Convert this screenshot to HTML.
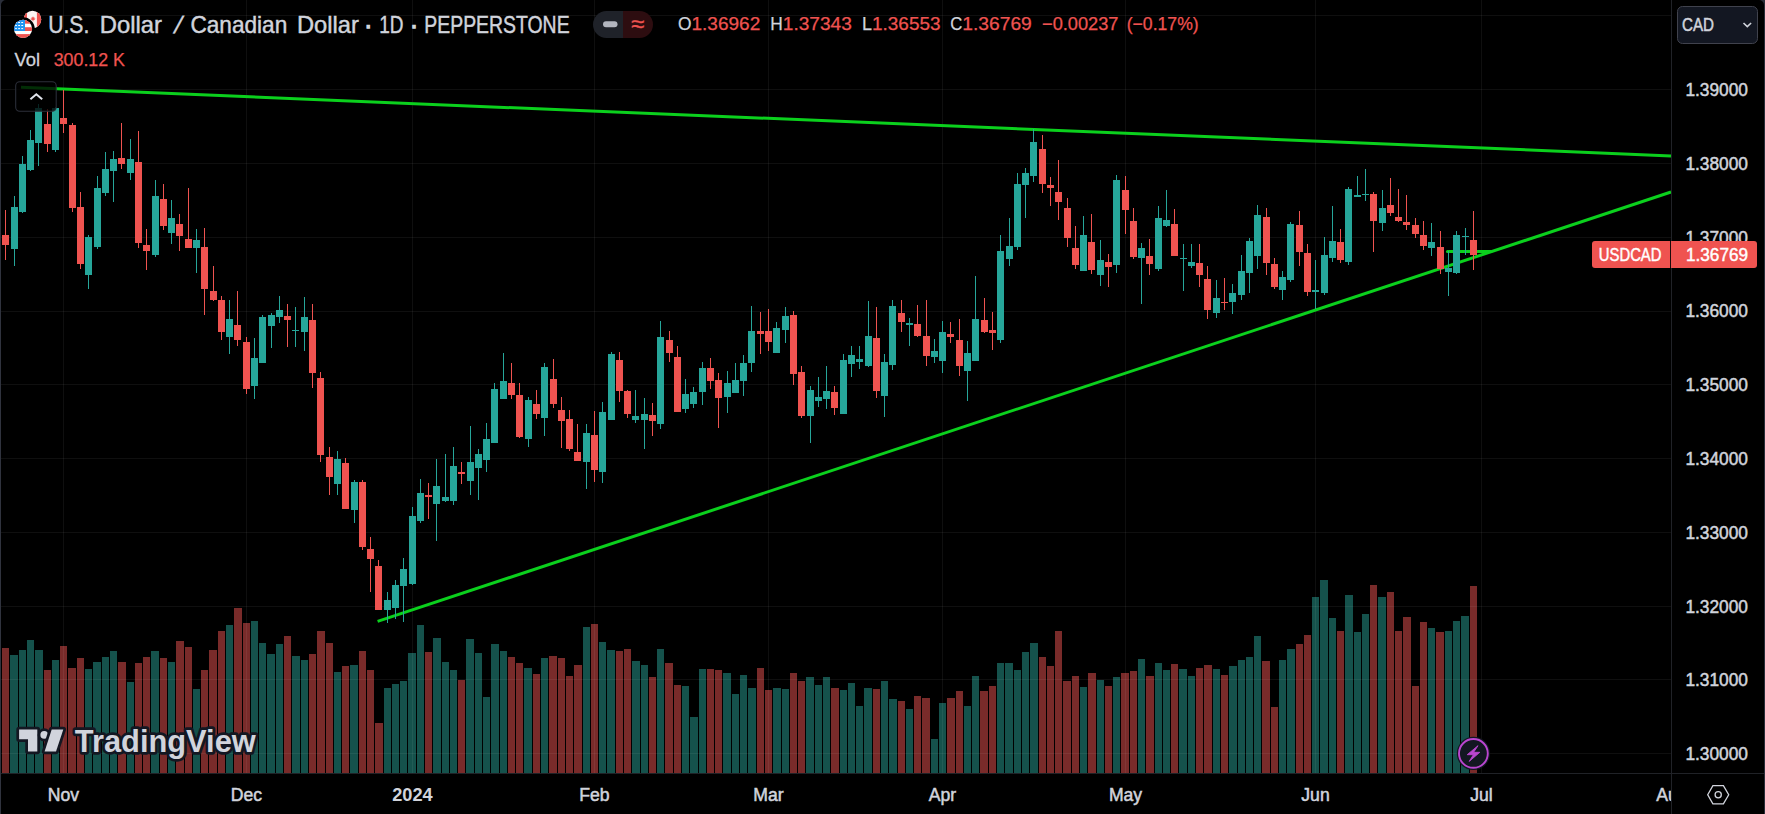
<!DOCTYPE html><html><head><meta charset="utf-8"><title>USDCAD chart</title><style>html,body{margin:0;padding:0;background:#000;width:1765px;height:814px;overflow:hidden}</style></head><body>
<svg width="1765" height="814" viewBox="0 0 1765 814" style="display:block;font-family:'Liberation Sans', sans-serif">
<rect width="1765" height="814" fill="#000"/>
<g shape-rendering="crispEdges">
<rect x="2" y="648" width="7" height="125" fill="#792b2a"/>
<rect x="10" y="655" width="8" height="118" fill="#15524c"/>
<rect x="19" y="650" width="7" height="123" fill="#15524c"/>
<rect x="27" y="640" width="7" height="133" fill="#15524c"/>
<rect x="35" y="650" width="8" height="123" fill="#15524c"/>
<rect x="44" y="670" width="7" height="103" fill="#792b2a"/>
<rect x="52" y="660" width="7" height="113" fill="#15524c"/>
<rect x="60" y="646" width="7" height="127" fill="#792b2a"/>
<rect x="68" y="668" width="8" height="105" fill="#792b2a"/>
<rect x="77" y="658" width="7" height="115" fill="#792b2a"/>
<rect x="85" y="669" width="7" height="104" fill="#15524c"/>
<rect x="93" y="662" width="8" height="111" fill="#15524c"/>
<rect x="102" y="657" width="7" height="116" fill="#15524c"/>
<rect x="110" y="651" width="7" height="122" fill="#15524c"/>
<rect x="118" y="662" width="8" height="111" fill="#792b2a"/>
<rect x="127" y="682" width="7" height="91" fill="#15524c"/>
<rect x="135" y="663" width="7" height="110" fill="#792b2a"/>
<rect x="143" y="657" width="7" height="116" fill="#792b2a"/>
<rect x="151" y="651" width="8" height="122" fill="#15524c"/>
<rect x="160" y="658" width="7" height="115" fill="#792b2a"/>
<rect x="168" y="662" width="7" height="111" fill="#15524c"/>
<rect x="176" y="641" width="8" height="132" fill="#792b2a"/>
<rect x="185" y="647" width="7" height="126" fill="#792b2a"/>
<rect x="193" y="689" width="7" height="84" fill="#15524c"/>
<rect x="201" y="670" width="7" height="103" fill="#792b2a"/>
<rect x="209" y="650" width="8" height="123" fill="#792b2a"/>
<rect x="218" y="631" width="7" height="142" fill="#792b2a"/>
<rect x="226" y="625" width="7" height="148" fill="#15524c"/>
<rect x="234" y="608" width="8" height="165" fill="#792b2a"/>
<rect x="243" y="623" width="7" height="150" fill="#792b2a"/>
<rect x="251" y="621" width="7" height="152" fill="#15524c"/>
<rect x="259" y="643" width="7" height="130" fill="#15524c"/>
<rect x="267" y="654" width="8" height="119" fill="#15524c"/>
<rect x="276" y="644" width="7" height="129" fill="#15524c"/>
<rect x="284" y="636" width="7" height="137" fill="#792b2a"/>
<rect x="292" y="656" width="8" height="117" fill="#15524c"/>
<rect x="301" y="660" width="7" height="113" fill="#15524c"/>
<rect x="309" y="654" width="7" height="119" fill="#792b2a"/>
<rect x="317" y="631" width="8" height="142" fill="#792b2a"/>
<rect x="326" y="643" width="7" height="130" fill="#792b2a"/>
<rect x="334" y="672" width="7" height="101" fill="#15524c"/>
<rect x="342" y="666" width="7" height="107" fill="#792b2a"/>
<rect x="350" y="665" width="8" height="108" fill="#15524c"/>
<rect x="359" y="651" width="7" height="122" fill="#792b2a"/>
<rect x="367" y="670" width="7" height="103" fill="#792b2a"/>
<rect x="375" y="723" width="8" height="50" fill="#792b2a"/>
<rect x="384" y="688" width="7" height="85" fill="#15524c"/>
<rect x="392" y="684" width="7" height="89" fill="#15524c"/>
<rect x="400" y="681" width="7" height="92" fill="#15524c"/>
<rect x="408" y="653" width="8" height="120" fill="#15524c"/>
<rect x="417" y="625" width="7" height="148" fill="#15524c"/>
<rect x="425" y="652" width="7" height="121" fill="#792b2a"/>
<rect x="433" y="638" width="8" height="135" fill="#15524c"/>
<rect x="442" y="662" width="7" height="111" fill="#15524c"/>
<rect x="450" y="670" width="7" height="103" fill="#15524c"/>
<rect x="458" y="680" width="7" height="93" fill="#792b2a"/>
<rect x="466" y="639" width="8" height="134" fill="#15524c"/>
<rect x="475" y="653" width="7" height="120" fill="#15524c"/>
<rect x="483" y="697" width="7" height="76" fill="#15524c"/>
<rect x="491" y="644" width="8" height="129" fill="#15524c"/>
<rect x="500" y="651" width="7" height="122" fill="#15524c"/>
<rect x="508" y="657" width="7" height="116" fill="#792b2a"/>
<rect x="516" y="663" width="7" height="110" fill="#792b2a"/>
<rect x="524" y="668" width="8" height="105" fill="#15524c"/>
<rect x="533" y="674" width="7" height="99" fill="#792b2a"/>
<rect x="541" y="658" width="7" height="115" fill="#15524c"/>
<rect x="549" y="656" width="8" height="117" fill="#792b2a"/>
<rect x="558" y="658" width="7" height="115" fill="#792b2a"/>
<rect x="566" y="676" width="7" height="97" fill="#792b2a"/>
<rect x="574" y="665" width="8" height="108" fill="#792b2a"/>
<rect x="583" y="627" width="7" height="146" fill="#15524c"/>
<rect x="591" y="624" width="7" height="149" fill="#792b2a"/>
<rect x="599" y="642" width="7" height="131" fill="#15524c"/>
<rect x="607" y="650" width="8" height="123" fill="#15524c"/>
<rect x="616" y="651" width="7" height="122" fill="#792b2a"/>
<rect x="624" y="649" width="7" height="124" fill="#792b2a"/>
<rect x="632" y="661" width="8" height="112" fill="#15524c"/>
<rect x="641" y="665" width="7" height="108" fill="#15524c"/>
<rect x="649" y="677" width="7" height="96" fill="#792b2a"/>
<rect x="657" y="649" width="7" height="124" fill="#15524c"/>
<rect x="665" y="663" width="8" height="110" fill="#792b2a"/>
<rect x="674" y="685" width="7" height="88" fill="#792b2a"/>
<rect x="682" y="686" width="7" height="87" fill="#15524c"/>
<rect x="690" y="717" width="8" height="56" fill="#15524c"/>
<rect x="699" y="669" width="7" height="104" fill="#15524c"/>
<rect x="707" y="669" width="7" height="104" fill="#792b2a"/>
<rect x="715" y="670" width="7" height="103" fill="#792b2a"/>
<rect x="723" y="673" width="8" height="100" fill="#15524c"/>
<rect x="732" y="694" width="7" height="79" fill="#15524c"/>
<rect x="740" y="675" width="7" height="98" fill="#15524c"/>
<rect x="748" y="688" width="8" height="85" fill="#15524c"/>
<rect x="757" y="668" width="7" height="105" fill="#792b2a"/>
<rect x="765" y="690" width="7" height="83" fill="#792b2a"/>
<rect x="773" y="688" width="8" height="85" fill="#15524c"/>
<rect x="782" y="689" width="7" height="84" fill="#15524c"/>
<rect x="790" y="673" width="7" height="100" fill="#792b2a"/>
<rect x="798" y="681" width="7" height="92" fill="#792b2a"/>
<rect x="806" y="677" width="8" height="96" fill="#15524c"/>
<rect x="815" y="685" width="7" height="88" fill="#15524c"/>
<rect x="823" y="677" width="7" height="96" fill="#15524c"/>
<rect x="831" y="688" width="8" height="85" fill="#792b2a"/>
<rect x="840" y="690" width="7" height="83" fill="#15524c"/>
<rect x="848" y="683" width="7" height="90" fill="#15524c"/>
<rect x="856" y="706" width="7" height="67" fill="#15524c"/>
<rect x="864" y="688" width="8" height="85" fill="#15524c"/>
<rect x="873" y="689" width="7" height="84" fill="#792b2a"/>
<rect x="881" y="681" width="7" height="92" fill="#15524c"/>
<rect x="889" y="699" width="8" height="74" fill="#15524c"/>
<rect x="898" y="701" width="7" height="72" fill="#792b2a"/>
<rect x="906" y="709" width="7" height="64" fill="#15524c"/>
<rect x="914" y="696" width="7" height="77" fill="#792b2a"/>
<rect x="922" y="698" width="8" height="75" fill="#792b2a"/>
<rect x="931" y="739" width="7" height="34" fill="#15524c"/>
<rect x="939" y="703" width="7" height="70" fill="#15524c"/>
<rect x="947" y="698" width="8" height="75" fill="#792b2a"/>
<rect x="956" y="691" width="7" height="82" fill="#792b2a"/>
<rect x="964" y="706" width="7" height="67" fill="#15524c"/>
<rect x="972" y="676" width="7" height="97" fill="#15524c"/>
<rect x="980" y="691" width="8" height="82" fill="#792b2a"/>
<rect x="989" y="686" width="7" height="87" fill="#792b2a"/>
<rect x="997" y="663" width="7" height="110" fill="#15524c"/>
<rect x="1005" y="663" width="8" height="110" fill="#15524c"/>
<rect x="1014" y="670" width="7" height="103" fill="#15524c"/>
<rect x="1022" y="652" width="7" height="121" fill="#15524c"/>
<rect x="1030" y="643" width="8" height="130" fill="#15524c"/>
<rect x="1039" y="657" width="7" height="116" fill="#792b2a"/>
<rect x="1047" y="666" width="7" height="107" fill="#792b2a"/>
<rect x="1055" y="631" width="7" height="142" fill="#792b2a"/>
<rect x="1063" y="681" width="8" height="92" fill="#792b2a"/>
<rect x="1072" y="676" width="7" height="97" fill="#792b2a"/>
<rect x="1080" y="687" width="7" height="86" fill="#15524c"/>
<rect x="1088" y="673" width="8" height="100" fill="#792b2a"/>
<rect x="1097" y="680" width="7" height="93" fill="#15524c"/>
<rect x="1105" y="686" width="7" height="87" fill="#792b2a"/>
<rect x="1113" y="677" width="7" height="96" fill="#15524c"/>
<rect x="1121" y="673" width="8" height="100" fill="#792b2a"/>
<rect x="1130" y="671" width="7" height="102" fill="#792b2a"/>
<rect x="1138" y="659" width="7" height="114" fill="#15524c"/>
<rect x="1146" y="676" width="8" height="97" fill="#792b2a"/>
<rect x="1155" y="663" width="7" height="110" fill="#15524c"/>
<rect x="1163" y="670" width="7" height="103" fill="#15524c"/>
<rect x="1171" y="664" width="7" height="109" fill="#792b2a"/>
<rect x="1179" y="669" width="8" height="104" fill="#15524c"/>
<rect x="1188" y="676" width="7" height="97" fill="#15524c"/>
<rect x="1196" y="668" width="7" height="105" fill="#792b2a"/>
<rect x="1204" y="665" width="8" height="108" fill="#792b2a"/>
<rect x="1213" y="669" width="7" height="104" fill="#15524c"/>
<rect x="1221" y="675" width="7" height="98" fill="#792b2a"/>
<rect x="1229" y="666" width="8" height="107" fill="#15524c"/>
<rect x="1238" y="660" width="7" height="113" fill="#15524c"/>
<rect x="1246" y="657" width="7" height="116" fill="#15524c"/>
<rect x="1254" y="636" width="7" height="137" fill="#15524c"/>
<rect x="1262" y="661" width="8" height="112" fill="#792b2a"/>
<rect x="1271" y="707" width="7" height="66" fill="#792b2a"/>
<rect x="1279" y="660" width="7" height="113" fill="#15524c"/>
<rect x="1287" y="649" width="8" height="124" fill="#15524c"/>
<rect x="1296" y="644" width="7" height="129" fill="#792b2a"/>
<rect x="1304" y="635" width="7" height="138" fill="#792b2a"/>
<rect x="1312" y="597" width="7" height="176" fill="#15524c"/>
<rect x="1320" y="580" width="8" height="193" fill="#15524c"/>
<rect x="1329" y="618" width="7" height="155" fill="#15524c"/>
<rect x="1337" y="631" width="7" height="142" fill="#792b2a"/>
<rect x="1345" y="595" width="8" height="178" fill="#15524c"/>
<rect x="1354" y="632" width="7" height="141" fill="#15524c"/>
<rect x="1362" y="614" width="7" height="159" fill="#15524c"/>
<rect x="1370" y="585" width="7" height="188" fill="#792b2a"/>
<rect x="1378" y="597" width="8" height="176" fill="#15524c"/>
<rect x="1387" y="592" width="7" height="181" fill="#792b2a"/>
<rect x="1395" y="631" width="7" height="142" fill="#792b2a"/>
<rect x="1403" y="617" width="8" height="156" fill="#792b2a"/>
<rect x="1412" y="686" width="7" height="87" fill="#792b2a"/>
<rect x="1420" y="622" width="7" height="151" fill="#792b2a"/>
<rect x="1428" y="628" width="7" height="145" fill="#15524c"/>
<rect x="1436" y="632" width="8" height="141" fill="#792b2a"/>
<rect x="1445" y="631" width="7" height="142" fill="#15524c"/>
<rect x="1453" y="621" width="7" height="152" fill="#15524c"/>
<rect x="1461" y="616" width="8" height="157" fill="#15524c"/>
<rect x="1470" y="586" width="7" height="187" fill="#792b2a"/>
</g>
<g fill="#ffffff" fill-opacity="0.06" shape-rendering="crispEdges">
<rect x="0" y="15" width="1671" height="1"/>
<rect x="0" y="89" width="1671" height="1"/>
<rect x="0" y="163" width="1671" height="1"/>
<rect x="0" y="237" width="1671" height="1"/>
<rect x="0" y="311" width="1671" height="1"/>
<rect x="0" y="384" width="1671" height="1"/>
<rect x="0" y="458" width="1671" height="1"/>
<rect x="0" y="532" width="1671" height="1"/>
<rect x="0" y="606" width="1671" height="1"/>
<rect x="0" y="679" width="1671" height="1"/>
<rect x="0" y="753" width="1671" height="1"/>
<rect x="63" y="0" width="1" height="773"/>
<rect x="246" y="0" width="1" height="773"/>
<rect x="412" y="0" width="1" height="773"/>
<rect x="594" y="0" width="1" height="773"/>
<rect x="768" y="0" width="1" height="773"/>
<rect x="942" y="0" width="1" height="773"/>
<rect x="1125" y="0" width="1" height="773"/>
<rect x="1315" y="0" width="1" height="773"/>
<rect x="1481" y="0" width="1" height="773"/>
</g>
<g stroke="#0bd01d" stroke-width="3" fill="none">
<line x1="21" y1="87.3" x2="1671" y2="155.9"/>
<line x1="377.6" y1="621.4" x2="1671" y2="192"/>
<line x1="1447.5" y1="251.5" x2="1491" y2="251.5" stroke-linecap="round"/>
</g>
<g shape-rendering="crispEdges">
<rect x="5" y="210" width="1" height="50" fill="#ef5350"/>
<rect x="2" y="235" width="7" height="10" fill="#ef5350"/>
<rect x="14" y="196" width="1" height="70" fill="#26a69a"/>
<rect x="11" y="207" width="7" height="42" fill="#26a69a"/>
<rect x="22" y="156" width="1" height="57" fill="#26a69a"/>
<rect x="19" y="164" width="7" height="48" fill="#26a69a"/>
<rect x="30" y="130" width="1" height="41" fill="#26a69a"/>
<rect x="27" y="140" width="7" height="30" fill="#26a69a"/>
<rect x="38" y="104" width="1" height="62" fill="#26a69a"/>
<rect x="35" y="108" width="7" height="35" fill="#26a69a"/>
<rect x="47" y="109" width="1" height="43" fill="#ef5350"/>
<rect x="44" y="124" width="7" height="20" fill="#ef5350"/>
<rect x="55" y="107" width="1" height="45" fill="#26a69a"/>
<rect x="52" y="108" width="7" height="42" fill="#26a69a"/>
<rect x="63" y="90" width="1" height="43" fill="#ef5350"/>
<rect x="60" y="118" width="7" height="6" fill="#ef5350"/>
<rect x="72" y="123" width="1" height="89" fill="#ef5350"/>
<rect x="69" y="125" width="7" height="83" fill="#ef5350"/>
<rect x="80" y="192" width="1" height="77" fill="#ef5350"/>
<rect x="77" y="207" width="7" height="57" fill="#ef5350"/>
<rect x="88" y="235" width="1" height="54" fill="#26a69a"/>
<rect x="85" y="237" width="7" height="38" fill="#26a69a"/>
<rect x="97" y="176" width="1" height="73" fill="#26a69a"/>
<rect x="94" y="188" width="7" height="59" fill="#26a69a"/>
<rect x="105" y="152" width="1" height="44" fill="#26a69a"/>
<rect x="102" y="169" width="7" height="24" fill="#26a69a"/>
<rect x="113" y="151" width="1" height="51" fill="#26a69a"/>
<rect x="110" y="159" width="7" height="12" fill="#26a69a"/>
<rect x="121" y="123" width="1" height="46" fill="#ef5350"/>
<rect x="118" y="158" width="7" height="6" fill="#ef5350"/>
<rect x="130" y="139" width="1" height="41" fill="#26a69a"/>
<rect x="127" y="159" width="7" height="14" fill="#26a69a"/>
<rect x="138" y="131" width="1" height="117" fill="#ef5350"/>
<rect x="135" y="162" width="7" height="81" fill="#ef5350"/>
<rect x="146" y="229" width="1" height="41" fill="#ef5350"/>
<rect x="143" y="245" width="7" height="6" fill="#ef5350"/>
<rect x="155" y="180" width="1" height="77" fill="#26a69a"/>
<rect x="152" y="196" width="7" height="59" fill="#26a69a"/>
<rect x="163" y="184" width="1" height="46" fill="#ef5350"/>
<rect x="160" y="199" width="7" height="27" fill="#ef5350"/>
<rect x="171" y="200" width="1" height="44" fill="#26a69a"/>
<rect x="168" y="218" width="7" height="15" fill="#26a69a"/>
<rect x="179" y="214" width="1" height="37" fill="#ef5350"/>
<rect x="176" y="224" width="7" height="12" fill="#ef5350"/>
<rect x="188" y="188" width="1" height="60" fill="#ef5350"/>
<rect x="185" y="239" width="7" height="9" fill="#ef5350"/>
<rect x="196" y="229" width="1" height="44" fill="#26a69a"/>
<rect x="193" y="240" width="7" height="8" fill="#26a69a"/>
<rect x="204" y="228" width="1" height="87" fill="#ef5350"/>
<rect x="201" y="247" width="7" height="42" fill="#ef5350"/>
<rect x="213" y="266" width="1" height="35" fill="#ef5350"/>
<rect x="210" y="291" width="7" height="9" fill="#ef5350"/>
<rect x="221" y="296" width="1" height="44" fill="#ef5350"/>
<rect x="218" y="300" width="7" height="32" fill="#ef5350"/>
<rect x="229" y="300" width="1" height="54" fill="#26a69a"/>
<rect x="226" y="319" width="7" height="18" fill="#26a69a"/>
<rect x="237" y="291" width="1" height="55" fill="#ef5350"/>
<rect x="234" y="325" width="7" height="15" fill="#ef5350"/>
<rect x="246" y="337" width="1" height="57" fill="#ef5350"/>
<rect x="243" y="342" width="7" height="47" fill="#ef5350"/>
<rect x="254" y="338" width="1" height="61" fill="#26a69a"/>
<rect x="251" y="358" width="7" height="28" fill="#26a69a"/>
<rect x="262" y="315" width="1" height="48" fill="#26a69a"/>
<rect x="259" y="317" width="7" height="46" fill="#26a69a"/>
<rect x="271" y="313" width="1" height="35" fill="#26a69a"/>
<rect x="268" y="315" width="7" height="11" fill="#26a69a"/>
<rect x="279" y="296" width="1" height="27" fill="#26a69a"/>
<rect x="276" y="310" width="7" height="7" fill="#26a69a"/>
<rect x="287" y="304" width="1" height="43" fill="#ef5350"/>
<rect x="284" y="316" width="7" height="4" fill="#ef5350"/>
<rect x="295" y="307" width="1" height="40" fill="#26a69a"/>
<rect x="292" y="330" width="7" height="1" fill="#26a69a"/>
<rect x="304" y="297" width="1" height="54" fill="#26a69a"/>
<rect x="301" y="317" width="7" height="15" fill="#26a69a"/>
<rect x="312" y="304" width="1" height="84" fill="#ef5350"/>
<rect x="309" y="320" width="7" height="53" fill="#ef5350"/>
<rect x="320" y="372" width="1" height="90" fill="#ef5350"/>
<rect x="317" y="378" width="7" height="77" fill="#ef5350"/>
<rect x="329" y="447" width="1" height="48" fill="#ef5350"/>
<rect x="326" y="457" width="7" height="20" fill="#ef5350"/>
<rect x="337" y="451" width="1" height="44" fill="#26a69a"/>
<rect x="334" y="459" width="7" height="25" fill="#26a69a"/>
<rect x="345" y="458" width="1" height="51" fill="#ef5350"/>
<rect x="342" y="463" width="7" height="46" fill="#ef5350"/>
<rect x="354" y="480" width="1" height="43" fill="#26a69a"/>
<rect x="351" y="482" width="7" height="28" fill="#26a69a"/>
<rect x="362" y="480" width="1" height="70" fill="#ef5350"/>
<rect x="359" y="482" width="7" height="65" fill="#ef5350"/>
<rect x="370" y="537" width="1" height="55" fill="#ef5350"/>
<rect x="367" y="549" width="7" height="10" fill="#ef5350"/>
<rect x="378" y="560" width="1" height="50" fill="#ef5350"/>
<rect x="375" y="566" width="7" height="44" fill="#ef5350"/>
<rect x="387" y="592" width="1" height="31" fill="#26a69a"/>
<rect x="384" y="600" width="7" height="10" fill="#26a69a"/>
<rect x="395" y="580" width="1" height="39" fill="#26a69a"/>
<rect x="392" y="585" width="7" height="23" fill="#26a69a"/>
<rect x="403" y="558" width="1" height="64" fill="#26a69a"/>
<rect x="400" y="569" width="7" height="17" fill="#26a69a"/>
<rect x="412" y="507" width="1" height="78" fill="#26a69a"/>
<rect x="409" y="516" width="7" height="68" fill="#26a69a"/>
<rect x="420" y="479" width="1" height="44" fill="#26a69a"/>
<rect x="417" y="493" width="7" height="28" fill="#26a69a"/>
<rect x="428" y="483" width="1" height="36" fill="#ef5350"/>
<rect x="425" y="495" width="7" height="2" fill="#ef5350"/>
<rect x="436" y="459" width="1" height="82" fill="#26a69a"/>
<rect x="433" y="486" width="7" height="18" fill="#26a69a"/>
<rect x="445" y="454" width="1" height="48" fill="#26a69a"/>
<rect x="442" y="497" width="7" height="4" fill="#26a69a"/>
<rect x="453" y="447" width="1" height="58" fill="#26a69a"/>
<rect x="450" y="466" width="7" height="35" fill="#26a69a"/>
<rect x="461" y="462" width="1" height="22" fill="#ef5350"/>
<rect x="458" y="472" width="7" height="2" fill="#ef5350"/>
<rect x="470" y="426" width="1" height="69" fill="#26a69a"/>
<rect x="467" y="462" width="7" height="19" fill="#26a69a"/>
<rect x="478" y="449" width="1" height="51" fill="#26a69a"/>
<rect x="475" y="454" width="7" height="14" fill="#26a69a"/>
<rect x="486" y="423" width="1" height="49" fill="#26a69a"/>
<rect x="483" y="439" width="7" height="21" fill="#26a69a"/>
<rect x="494" y="383" width="1" height="60" fill="#26a69a"/>
<rect x="491" y="389" width="7" height="54" fill="#26a69a"/>
<rect x="503" y="353" width="1" height="46" fill="#26a69a"/>
<rect x="500" y="381" width="7" height="18" fill="#26a69a"/>
<rect x="511" y="363" width="1" height="36" fill="#ef5350"/>
<rect x="508" y="383" width="7" height="12" fill="#ef5350"/>
<rect x="519" y="383" width="1" height="55" fill="#ef5350"/>
<rect x="516" y="395" width="7" height="42" fill="#ef5350"/>
<rect x="528" y="397" width="1" height="50" fill="#26a69a"/>
<rect x="525" y="400" width="7" height="39" fill="#26a69a"/>
<rect x="536" y="390" width="1" height="29" fill="#ef5350"/>
<rect x="533" y="404" width="7" height="10" fill="#ef5350"/>
<rect x="544" y="363" width="1" height="73" fill="#26a69a"/>
<rect x="541" y="367" width="7" height="51" fill="#26a69a"/>
<rect x="553" y="359" width="1" height="49" fill="#ef5350"/>
<rect x="550" y="379" width="7" height="25" fill="#ef5350"/>
<rect x="561" y="397" width="1" height="51" fill="#ef5350"/>
<rect x="558" y="410" width="7" height="11" fill="#ef5350"/>
<rect x="569" y="410" width="1" height="41" fill="#ef5350"/>
<rect x="566" y="419" width="7" height="30" fill="#ef5350"/>
<rect x="577" y="424" width="1" height="37" fill="#ef5350"/>
<rect x="574" y="452" width="7" height="9" fill="#ef5350"/>
<rect x="586" y="424" width="1" height="65" fill="#26a69a"/>
<rect x="583" y="433" width="7" height="29" fill="#26a69a"/>
<rect x="594" y="411" width="1" height="71" fill="#ef5350"/>
<rect x="591" y="435" width="7" height="35" fill="#ef5350"/>
<rect x="602" y="402" width="1" height="81" fill="#26a69a"/>
<rect x="599" y="412" width="7" height="60" fill="#26a69a"/>
<rect x="611" y="352" width="1" height="68" fill="#26a69a"/>
<rect x="608" y="354" width="7" height="66" fill="#26a69a"/>
<rect x="619" y="352" width="1" height="50" fill="#ef5350"/>
<rect x="616" y="360" width="7" height="31" fill="#ef5350"/>
<rect x="627" y="390" width="1" height="28" fill="#ef5350"/>
<rect x="624" y="391" width="7" height="23" fill="#ef5350"/>
<rect x="635" y="390" width="1" height="33" fill="#26a69a"/>
<rect x="632" y="416" width="7" height="4" fill="#26a69a"/>
<rect x="644" y="398" width="1" height="51" fill="#26a69a"/>
<rect x="641" y="414" width="7" height="6" fill="#26a69a"/>
<rect x="652" y="403" width="1" height="33" fill="#ef5350"/>
<rect x="649" y="415" width="7" height="6" fill="#ef5350"/>
<rect x="660" y="321" width="1" height="108" fill="#26a69a"/>
<rect x="657" y="337" width="7" height="87" fill="#26a69a"/>
<rect x="669" y="331" width="1" height="31" fill="#ef5350"/>
<rect x="666" y="340" width="7" height="13" fill="#ef5350"/>
<rect x="677" y="346" width="1" height="66" fill="#ef5350"/>
<rect x="674" y="357" width="7" height="55" fill="#ef5350"/>
<rect x="685" y="379" width="1" height="34" fill="#26a69a"/>
<rect x="682" y="394" width="7" height="15" fill="#26a69a"/>
<rect x="693" y="387" width="1" height="21" fill="#26a69a"/>
<rect x="690" y="392" width="7" height="12" fill="#26a69a"/>
<rect x="702" y="362" width="1" height="43" fill="#26a69a"/>
<rect x="699" y="368" width="7" height="24" fill="#26a69a"/>
<rect x="710" y="358" width="1" height="31" fill="#ef5350"/>
<rect x="707" y="368" width="7" height="13" fill="#ef5350"/>
<rect x="718" y="373" width="1" height="55" fill="#ef5350"/>
<rect x="715" y="380" width="7" height="18" fill="#ef5350"/>
<rect x="727" y="371" width="1" height="42" fill="#26a69a"/>
<rect x="724" y="383" width="7" height="14" fill="#26a69a"/>
<rect x="735" y="363" width="1" height="30" fill="#26a69a"/>
<rect x="732" y="380" width="7" height="13" fill="#26a69a"/>
<rect x="743" y="355" width="1" height="41" fill="#26a69a"/>
<rect x="740" y="363" width="7" height="18" fill="#26a69a"/>
<rect x="751" y="306" width="1" height="66" fill="#26a69a"/>
<rect x="748" y="331" width="7" height="32" fill="#26a69a"/>
<rect x="760" y="312" width="1" height="42" fill="#ef5350"/>
<rect x="757" y="331" width="7" height="3" fill="#ef5350"/>
<rect x="768" y="309" width="1" height="42" fill="#ef5350"/>
<rect x="765" y="331" width="7" height="11" fill="#ef5350"/>
<rect x="776" y="322" width="1" height="31" fill="#26a69a"/>
<rect x="773" y="328" width="7" height="25" fill="#26a69a"/>
<rect x="785" y="307" width="1" height="36" fill="#26a69a"/>
<rect x="782" y="316" width="7" height="14" fill="#26a69a"/>
<rect x="793" y="311" width="1" height="74" fill="#ef5350"/>
<rect x="790" y="315" width="7" height="59" fill="#ef5350"/>
<rect x="801" y="366" width="1" height="52" fill="#ef5350"/>
<rect x="798" y="372" width="7" height="44" fill="#ef5350"/>
<rect x="810" y="386" width="1" height="57" fill="#26a69a"/>
<rect x="807" y="390" width="7" height="26" fill="#26a69a"/>
<rect x="818" y="377" width="1" height="30" fill="#26a69a"/>
<rect x="815" y="397" width="7" height="4" fill="#26a69a"/>
<rect x="826" y="366" width="1" height="43" fill="#26a69a"/>
<rect x="823" y="391" width="7" height="8" fill="#26a69a"/>
<rect x="834" y="386" width="1" height="29" fill="#ef5350"/>
<rect x="831" y="392" width="7" height="16" fill="#ef5350"/>
<rect x="843" y="354" width="1" height="60" fill="#26a69a"/>
<rect x="840" y="360" width="7" height="54" fill="#26a69a"/>
<rect x="851" y="346" width="1" height="31" fill="#26a69a"/>
<rect x="848" y="355" width="7" height="9" fill="#26a69a"/>
<rect x="859" y="346" width="1" height="23" fill="#26a69a"/>
<rect x="856" y="359" width="7" height="3" fill="#26a69a"/>
<rect x="868" y="301" width="1" height="66" fill="#26a69a"/>
<rect x="865" y="336" width="7" height="30" fill="#26a69a"/>
<rect x="876" y="307" width="1" height="91" fill="#ef5350"/>
<rect x="873" y="338" width="7" height="53" fill="#ef5350"/>
<rect x="884" y="354" width="1" height="63" fill="#26a69a"/>
<rect x="881" y="362" width="7" height="34" fill="#26a69a"/>
<rect x="892" y="300" width="1" height="70" fill="#26a69a"/>
<rect x="889" y="306" width="7" height="59" fill="#26a69a"/>
<rect x="901" y="300" width="1" height="32" fill="#ef5350"/>
<rect x="898" y="313" width="7" height="9" fill="#ef5350"/>
<rect x="909" y="318" width="1" height="28" fill="#26a69a"/>
<rect x="906" y="323" width="7" height="2" fill="#26a69a"/>
<rect x="917" y="305" width="1" height="32" fill="#ef5350"/>
<rect x="914" y="324" width="7" height="12" fill="#ef5350"/>
<rect x="926" y="300" width="1" height="66" fill="#ef5350"/>
<rect x="923" y="336" width="7" height="20" fill="#ef5350"/>
<rect x="934" y="339" width="1" height="24" fill="#26a69a"/>
<rect x="931" y="351" width="7" height="6" fill="#26a69a"/>
<rect x="942" y="321" width="1" height="52" fill="#26a69a"/>
<rect x="939" y="332" width="7" height="29" fill="#26a69a"/>
<rect x="950" y="322" width="1" height="21" fill="#ef5350"/>
<rect x="947" y="334" width="7" height="3" fill="#ef5350"/>
<rect x="959" y="319" width="1" height="57" fill="#ef5350"/>
<rect x="956" y="340" width="7" height="26" fill="#ef5350"/>
<rect x="967" y="341" width="1" height="60" fill="#26a69a"/>
<rect x="964" y="353" width="7" height="18" fill="#26a69a"/>
<rect x="975" y="276" width="1" height="85" fill="#26a69a"/>
<rect x="972" y="319" width="7" height="42" fill="#26a69a"/>
<rect x="984" y="298" width="1" height="35" fill="#ef5350"/>
<rect x="981" y="320" width="7" height="12" fill="#ef5350"/>
<rect x="992" y="312" width="1" height="38" fill="#ef5350"/>
<rect x="989" y="330" width="7" height="3" fill="#ef5350"/>
<rect x="1000" y="235" width="1" height="108" fill="#26a69a"/>
<rect x="997" y="251" width="7" height="89" fill="#26a69a"/>
<rect x="1009" y="218" width="1" height="48" fill="#26a69a"/>
<rect x="1006" y="246" width="7" height="13" fill="#26a69a"/>
<rect x="1017" y="173" width="1" height="77" fill="#26a69a"/>
<rect x="1014" y="184" width="7" height="63" fill="#26a69a"/>
<rect x="1025" y="168" width="1" height="50" fill="#26a69a"/>
<rect x="1022" y="173" width="7" height="12" fill="#26a69a"/>
<rect x="1033" y="129" width="1" height="53" fill="#26a69a"/>
<rect x="1030" y="142" width="7" height="34" fill="#26a69a"/>
<rect x="1042" y="135" width="1" height="58" fill="#ef5350"/>
<rect x="1039" y="149" width="7" height="35" fill="#ef5350"/>
<rect x="1050" y="177" width="1" height="29" fill="#ef5350"/>
<rect x="1047" y="185" width="7" height="3" fill="#ef5350"/>
<rect x="1058" y="160" width="1" height="60" fill="#ef5350"/>
<rect x="1055" y="192" width="7" height="10" fill="#ef5350"/>
<rect x="1067" y="198" width="1" height="49" fill="#ef5350"/>
<rect x="1064" y="208" width="7" height="30" fill="#ef5350"/>
<rect x="1075" y="226" width="1" height="43" fill="#ef5350"/>
<rect x="1072" y="248" width="7" height="17" fill="#ef5350"/>
<rect x="1083" y="216" width="1" height="55" fill="#26a69a"/>
<rect x="1080" y="235" width="7" height="36" fill="#26a69a"/>
<rect x="1091" y="214" width="1" height="60" fill="#ef5350"/>
<rect x="1088" y="242" width="7" height="28" fill="#ef5350"/>
<rect x="1100" y="240" width="1" height="46" fill="#26a69a"/>
<rect x="1097" y="260" width="7" height="15" fill="#26a69a"/>
<rect x="1108" y="254" width="1" height="33" fill="#ef5350"/>
<rect x="1105" y="262" width="7" height="5" fill="#ef5350"/>
<rect x="1116" y="175" width="1" height="98" fill="#26a69a"/>
<rect x="1113" y="180" width="7" height="85" fill="#26a69a"/>
<rect x="1125" y="176" width="1" height="58" fill="#ef5350"/>
<rect x="1122" y="190" width="7" height="20" fill="#ef5350"/>
<rect x="1133" y="208" width="1" height="51" fill="#ef5350"/>
<rect x="1130" y="221" width="7" height="36" fill="#ef5350"/>
<rect x="1141" y="243" width="1" height="61" fill="#26a69a"/>
<rect x="1138" y="248" width="7" height="10" fill="#26a69a"/>
<rect x="1149" y="239" width="1" height="36" fill="#ef5350"/>
<rect x="1146" y="256" width="7" height="8" fill="#ef5350"/>
<rect x="1158" y="206" width="1" height="65" fill="#26a69a"/>
<rect x="1155" y="218" width="7" height="51" fill="#26a69a"/>
<rect x="1166" y="190" width="1" height="37" fill="#26a69a"/>
<rect x="1163" y="220" width="7" height="6" fill="#26a69a"/>
<rect x="1174" y="209" width="1" height="47" fill="#ef5350"/>
<rect x="1171" y="224" width="7" height="32" fill="#ef5350"/>
<rect x="1183" y="244" width="1" height="47" fill="#26a69a"/>
<rect x="1180" y="258" width="7" height="1" fill="#26a69a"/>
<rect x="1191" y="244" width="1" height="24" fill="#26a69a"/>
<rect x="1188" y="262" width="7" height="4" fill="#26a69a"/>
<rect x="1199" y="244" width="1" height="43" fill="#ef5350"/>
<rect x="1196" y="263" width="7" height="12" fill="#ef5350"/>
<rect x="1207" y="266" width="1" height="53" fill="#ef5350"/>
<rect x="1204" y="279" width="7" height="31" fill="#ef5350"/>
<rect x="1216" y="280" width="1" height="38" fill="#26a69a"/>
<rect x="1213" y="298" width="7" height="15" fill="#26a69a"/>
<rect x="1224" y="278" width="1" height="32" fill="#ef5350"/>
<rect x="1221" y="302" width="7" height="1" fill="#ef5350"/>
<rect x="1232" y="284" width="1" height="30" fill="#26a69a"/>
<rect x="1229" y="293" width="7" height="9" fill="#26a69a"/>
<rect x="1241" y="255" width="1" height="45" fill="#26a69a"/>
<rect x="1238" y="271" width="7" height="24" fill="#26a69a"/>
<rect x="1249" y="238" width="1" height="55" fill="#26a69a"/>
<rect x="1246" y="241" width="7" height="32" fill="#26a69a"/>
<rect x="1257" y="205" width="1" height="64" fill="#26a69a"/>
<rect x="1254" y="215" width="7" height="41" fill="#26a69a"/>
<rect x="1266" y="208" width="1" height="67" fill="#ef5350"/>
<rect x="1263" y="217" width="7" height="46" fill="#ef5350"/>
<rect x="1274" y="258" width="1" height="31" fill="#ef5350"/>
<rect x="1271" y="264" width="7" height="23" fill="#ef5350"/>
<rect x="1282" y="271" width="1" height="29" fill="#26a69a"/>
<rect x="1279" y="277" width="7" height="13" fill="#26a69a"/>
<rect x="1290" y="222" width="1" height="60" fill="#26a69a"/>
<rect x="1287" y="224" width="7" height="56" fill="#26a69a"/>
<rect x="1299" y="211" width="1" height="55" fill="#ef5350"/>
<rect x="1296" y="225" width="7" height="27" fill="#ef5350"/>
<rect x="1307" y="244" width="1" height="52" fill="#ef5350"/>
<rect x="1304" y="253" width="7" height="39" fill="#ef5350"/>
<rect x="1315" y="260" width="1" height="49" fill="#26a69a"/>
<rect x="1312" y="290" width="7" height="2" fill="#26a69a"/>
<rect x="1324" y="237" width="1" height="58" fill="#26a69a"/>
<rect x="1321" y="255" width="7" height="38" fill="#26a69a"/>
<rect x="1332" y="206" width="1" height="56" fill="#26a69a"/>
<rect x="1329" y="241" width="7" height="17" fill="#26a69a"/>
<rect x="1340" y="229" width="1" height="34" fill="#ef5350"/>
<rect x="1337" y="242" width="7" height="18" fill="#ef5350"/>
<rect x="1348" y="187" width="1" height="78" fill="#26a69a"/>
<rect x="1345" y="189" width="7" height="73" fill="#26a69a"/>
<rect x="1357" y="176" width="1" height="21" fill="#26a69a"/>
<rect x="1354" y="195" width="7" height="2" fill="#26a69a"/>
<rect x="1365" y="169" width="1" height="32" fill="#26a69a"/>
<rect x="1362" y="194" width="7" height="1" fill="#26a69a"/>
<rect x="1373" y="192" width="1" height="60" fill="#ef5350"/>
<rect x="1370" y="194" width="7" height="27" fill="#ef5350"/>
<rect x="1382" y="190" width="1" height="41" fill="#26a69a"/>
<rect x="1379" y="208" width="7" height="15" fill="#26a69a"/>
<rect x="1390" y="178" width="1" height="38" fill="#ef5350"/>
<rect x="1387" y="205" width="7" height="8" fill="#ef5350"/>
<rect x="1398" y="189" width="1" height="33" fill="#ef5350"/>
<rect x="1395" y="217" width="7" height="4" fill="#ef5350"/>
<rect x="1406" y="195" width="1" height="35" fill="#ef5350"/>
<rect x="1403" y="222" width="7" height="3" fill="#ef5350"/>
<rect x="1415" y="218" width="1" height="20" fill="#ef5350"/>
<rect x="1412" y="225" width="7" height="9" fill="#ef5350"/>
<rect x="1423" y="221" width="1" height="29" fill="#ef5350"/>
<rect x="1420" y="235" width="7" height="11" fill="#ef5350"/>
<rect x="1431" y="223" width="1" height="33" fill="#26a69a"/>
<rect x="1428" y="242" width="7" height="6" fill="#26a69a"/>
<rect x="1440" y="231" width="1" height="43" fill="#ef5350"/>
<rect x="1437" y="247" width="7" height="22" fill="#ef5350"/>
<rect x="1448" y="251" width="1" height="45" fill="#26a69a"/>
<rect x="1445" y="268" width="7" height="4" fill="#26a69a"/>
<rect x="1456" y="231" width="1" height="43" fill="#26a69a"/>
<rect x="1453" y="235" width="7" height="38" fill="#26a69a"/>
<rect x="1465" y="228" width="1" height="27" fill="#26a69a"/>
<rect x="1462" y="236" width="7" height="1" fill="#26a69a"/>
<rect x="1473" y="211" width="1" height="59" fill="#ef5350"/>
<rect x="1470" y="240" width="7" height="15" fill="#ef5350"/>
</g>
<rect x="1672" y="0" width="93" height="814" fill="#000"/>
<rect x="0" y="774" width="1765" height="40" fill="#000"/>
<g fill="#202227" shape-rendering="crispEdges">
<rect x="1671" y="0" width="1" height="814"/>
<rect x="0" y="773" width="1765" height="1"/>
</g>
<rect x="0" y="0" width="1" height="814" fill="#30333e"/>
<path d="M0 0 H6 A5 5 0 0 0 1 5 V6 H0 Z" fill="#2a2e39"/>
<rect x="1764" y="0" width="1" height="814" fill="#2a2e39"/>
<path d="M1765 0 H1759 A5 5 0 0 1 1764 5 V6 H1765 Z" fill="#2a2e39"/>
<g fill="#d1d4dc" stroke="#d1d4dc" stroke-width="0.5" font-size="17.6">
<text x="1685.4" y="759.8" textLength="62.6" lengthAdjust="spacingAndGlyphs">1.30000</text>
<text x="1685.4" y="685.8" textLength="62.6" lengthAdjust="spacingAndGlyphs">1.31000</text>
<text x="1685.4" y="612.8" textLength="62.6" lengthAdjust="spacingAndGlyphs">1.32000</text>
<text x="1685.4" y="538.8" textLength="62.6" lengthAdjust="spacingAndGlyphs">1.33000</text>
<text x="1685.4" y="464.8" textLength="62.6" lengthAdjust="spacingAndGlyphs">1.34000</text>
<text x="1685.4" y="390.8" textLength="62.6" lengthAdjust="spacingAndGlyphs">1.35000</text>
<text x="1685.4" y="317.0" textLength="62.6" lengthAdjust="spacingAndGlyphs">1.36000</text>
<text x="1685.4" y="243.8" textLength="62.6" lengthAdjust="spacingAndGlyphs">1.37000</text>
<text x="1685.4" y="169.8" textLength="62.6" lengthAdjust="spacingAndGlyphs">1.38000</text>
<text x="1685.4" y="95.8" textLength="62.6" lengthAdjust="spacingAndGlyphs">1.39000</text>
</g>
<rect x="1592" y="241" width="165" height="27" rx="3" fill="#ef5350"/>
<rect x="1670" y="241" width="1" height="27" fill="#1c0a0a"/>
<g fill="#ffffff" stroke="#ffffff" stroke-width="0.45" font-size="17.5">
<text x="1598.8" y="260.8" textLength="62.7" lengthAdjust="spacingAndGlyphs">USDCAD</text>
<text x="1686" y="260.8" textLength="62" lengthAdjust="spacingAndGlyphs">1.36769</text>
</g>
<rect x="1677.5" y="6.5" width="80" height="37" rx="5" fill="#131722" stroke="#40424d"/>
<text x="1682" y="30.7" font-size="17.6" fill="#d1d4dc" stroke="#d1d4dc" stroke-width="0.5" textLength="32" lengthAdjust="spacingAndGlyphs">CAD</text>
<path d="M1743.5 23 L1747.3 26.6 L1751.1 23" stroke="#d1d4dc" stroke-width="1.6" fill="none"/>
<g fill="#d1d4dc" stroke="#d1d4dc" stroke-width="0.5" font-size="17.6" text-anchor="middle">
<text x="63.5" y="800.5">Nov</text>
<text x="246.5" y="800.5">Dec</text>
<text x="412.5" y="800.5" font-weight="bold" stroke="none" textLength="40.5" lengthAdjust="spacingAndGlyphs">2024</text>
<text x="594.5" y="800.5">Feb</text>
<text x="768.5" y="800.5">Mar</text>
<text x="942.5" y="800.5">Apr</text>
<text x="1125.5" y="800.5">May</text>
<text x="1315.5" y="800.5">Jun</text>
<text x="1481.5" y="800.5">Jul</text>
</g>
<svg x="0" y="774" width="1671" height="40" viewBox="0 774 1671 40" overflow="hidden">
<text x="1672" y="800.5" font-size="17.6" fill="#d1d4dc" stroke="#d1d4dc" stroke-width="0.5" text-anchor="middle">Aug</text>
</svg>
<g stroke="#d1d4dc" stroke-width="1.3" fill="none">
<path d="M1707.7 794.7 L1712.9 785.6 L1723.4 785.6 L1728.7 794.7 L1723.4 803.9 L1712.9 803.9 Z"/>
<circle cx="1718.2" cy="794.7" r="3.1"/>
</g>
<g fill="#d1d4dc" stroke="#d1d4dc" stroke-width="0.45" font-size="24">
<text x="48.2" y="32.7" textLength="41.1" lengthAdjust="spacingAndGlyphs">U.S.</text>
<text x="99.8" y="32.7" textLength="62.2" lengthAdjust="spacingAndGlyphs">Dollar</text>
<text x="175.3" y="32.7" transform="translate(178.3 24.4) skewX(-15) translate(-178.3 -24.4)">/</text>
<text x="190.4" y="32.7" textLength="96.9" lengthAdjust="spacingAndGlyphs">Canadian</text>
<text x="297" y="32.7" textLength="61.8" lengthAdjust="spacingAndGlyphs">Dollar</text>
<text x="368.2" y="32.7" text-anchor="middle" stroke-width="1.3">·</text>
<text x="379.2" y="32.7" textLength="24.3" lengthAdjust="spacingAndGlyphs">1D</text>
<text x="414.1" y="32.7" text-anchor="middle" stroke-width="1.3">·</text>
<text x="424.3" y="32.7" textLength="145.3" lengthAdjust="spacingAndGlyphs">PEPPERSTONE</text>
</g>
<clipPath id="pill"><rect x="593" y="11" width="60" height="27" rx="13.5"/></clipPath>
<g clip-path="url(#pill)"><rect x="593" y="11" width="30" height="27" fill="#1f2229"/><rect x="623" y="11" width="30" height="27" fill="#2d0d10"/></g>
<rect x="603" y="21.3" width="14.5" height="6" rx="3" fill="#b2b5be"/>
<text x="637.5" y="32.3" font-size="24" fill="#ef5350" stroke="#ef5350" stroke-width="0.3" text-anchor="middle">≈</text>
<g font-size="18" stroke-width="0.25">
<text x="678" y="30.4" fill="#d1d4dc" stroke="#d1d4dc" textLength="13.5" lengthAdjust="spacingAndGlyphs">O</text>
<text x="691.5" y="30.4" fill="#ef5350" stroke="#ef5350" textLength="68.8" lengthAdjust="spacingAndGlyphs">1.36962</text>
<text x="770.3" y="30.4" fill="#d1d4dc" stroke="#d1d4dc" textLength="12.5" lengthAdjust="spacingAndGlyphs">H</text>
<text x="782.8" y="30.4" fill="#ef5350" stroke="#ef5350" textLength="69.0" lengthAdjust="spacingAndGlyphs">1.37343</text>
<text x="862" y="30.4" fill="#d1d4dc" stroke="#d1d4dc" textLength="10" lengthAdjust="spacingAndGlyphs">L</text>
<text x="872" y="30.4" fill="#ef5350" stroke="#ef5350" textLength="68.5" lengthAdjust="spacingAndGlyphs">1.36553</text>
<text x="950.3" y="30.4" fill="#d1d4dc" stroke="#d1d4dc" textLength="12" lengthAdjust="spacingAndGlyphs">C</text>
<text x="962.3" y="30.4" fill="#ef5350" stroke="#ef5350" textLength="69.5" lengthAdjust="spacingAndGlyphs">1.36769</text>
<text x="1042" y="30.4" fill="#ef5350" stroke="#ef5350" textLength="76.5" lengthAdjust="spacingAndGlyphs">−0.00237</text>
<text x="1126.7" y="30.4" fill="#ef5350" stroke="#ef5350" textLength="72" lengthAdjust="spacingAndGlyphs">(−0.17%)</text>
</g>
<text x="14.4" y="66.3" font-size="18.5" fill="#d1d4dc" stroke="#d1d4dc" stroke-width="0.3" textLength="25.6" lengthAdjust="spacingAndGlyphs">Vol</text>
<text x="53.7" y="66.3" font-size="18.5" fill="#ef5350" stroke="#ef5350" stroke-width="0.25" textLength="71.3" lengthAdjust="spacingAndGlyphs">300.12 K</text>
<rect x="15.7" y="81.7" width="40.5" height="29.5" rx="4" fill="#000" fill-opacity="0.78" stroke="#2c2f3a" stroke-width="1.05"/>
<path d="M30.4 99.3 L36.3 94.3 L42.2 99.3" stroke="#e0e3eb" stroke-width="2" fill="none"/>
<g>
<clipPath id="ca"><circle cx="32.45" cy="19.5" r="8.75"/></clipPath>
<g clip-path="url(#ca)"><rect x="23" y="10" width="19" height="19" fill="#fdf4f3"/><rect x="23" y="10" width="4" height="19" fill="#ef5350"/><rect x="36.9" y="10" width="5" height="19" fill="#ef5350"/><path transform="translate(33 19.3) scale(0.62) translate(-32.6 -19.5)" d="M32.6 14.6 l1 2 1.4-.5 -.4 2.6 1.4-.9 .3 1.1 -2.3 2 h-1 v2.2 h-.8 v-2.2 h-1 l-2.3-2 .3-1.1 1.4.9 -.4-2.6 1.4.5z" fill="#ef5350"/></g>
<circle cx="23.05" cy="28.9" r="11.7" fill="#000"/>
<clipPath id="us"><circle cx="23.05" cy="28.9" r="9.1"/></clipPath>
<g clip-path="url(#us)"><rect x="13" y="19" width="20" height="20" fill="#fff"/>
<rect x="13" y="19" width="20" height="4.7" fill="#ef5350"/>
<rect x="13" y="27.2" width="20" height="3.8" fill="#ef5350"/>
<rect x="13" y="34.1" width="20" height="4.9" fill="#ef5350"/>
<rect x="13" y="19" width="12" height="12" fill="#2196f3"/>
<rect x="15.1" y="22.0" width="1.8" height="1" fill="#fff"/>
<rect x="15.1" y="25.0" width="1.8" height="1" fill="#fff"/>
<rect x="15.1" y="28.1" width="1.8" height="1" fill="#fff"/>
<rect x="18.2" y="22.0" width="1.8" height="1" fill="#fff"/>
<rect x="18.2" y="25.0" width="1.8" height="1" fill="#fff"/>
<rect x="18.2" y="28.1" width="1.8" height="1" fill="#fff"/>
<rect x="21.3" y="22.0" width="1.8" height="1" fill="#fff"/>
<rect x="21.3" y="25.0" width="1.8" height="1" fill="#fff"/>
<rect x="21.3" y="28.1" width="1.8" height="1" fill="#fff"/>
</g></g>
<g stroke="#131722" stroke-width="5.5" stroke-linejoin="round" paint-order="stroke" fill="#d1d4dc">
<path d="M19.1 729.4 H37.3 V751.5 H28 V739.3 H19.1 Z"/>
<circle cx="44.2" cy="734.9" r="3.8"/>
<path d="M51.7 729.4 H63.3 L56 751.5 H44.6 Z"/>
<text x="74.8" y="751.5" font-size="30.8" font-weight="bold" textLength="181" lengthAdjust="spacingAndGlyphs">TradingView</text>
</g>
<circle cx="1473.4" cy="753.4" r="15.6" fill="#131722" stroke="#131722" stroke-width="2"/>
<circle cx="1473.4" cy="753.4" r="14.4" fill="#131722" stroke="#ba46d0" stroke-width="1.9"/>
<path d="M1478 745.7 L1467.2 754.7 L1473.4 754.7 L1469.2 761.4 L1479.8 752.3 L1473.6 752.3 Z" fill="#ba46d0" stroke="#ba46d0" stroke-width="0.9" stroke-linejoin="round"/>
</svg></body></html>
